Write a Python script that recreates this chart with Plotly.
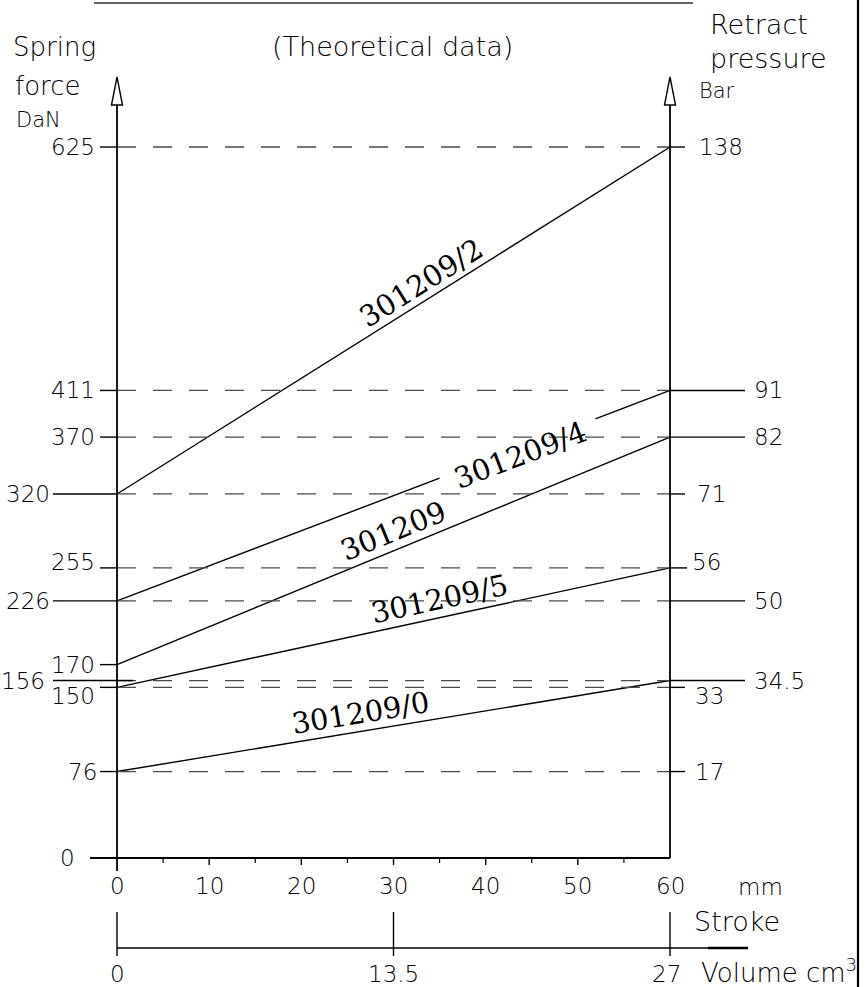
import math
import numpy as np
import plotly.graph_objects as go

# ---------------- data ----------------
stroke_range = [0, 60]                      # mm
series_names = ["301209/2", "301209/4", "301209", "301209/5", "301209/0"]
force_at_0 = [320, 226, 170, 150, 76]       # DaN at stroke 0
force_at_60 = [625, 411, 370, 255, 156]     # DaN at stroke 60

force_max = 625
force_tick_values = [625, 411, 370, 320, 255, 226, 170, 156, 150, 76, 0]
dashed_levels = [625, 411, 370, 320, 255, 226, 156, 150, 76]

pressure_forces = [625, 411, 370, 320, 255, 226, 156, 150, 76]
pressure_labels = ["138", "91", "82", "71", "56", "50", "34.5", "33", "17"]

stroke_ticks = [0, 10, 20, 30, 40, 50, 60]
stroke_minor_ticks = [5, 15, 25, 35, 45, 55]
volume_labels = ["0", "13.5", "27"]
volume_values = [0, 13.5, 27]
volume_max = 27

# ---------------- layout helpers (pixel geometry) ----------------
W, H = 867, 987
PX_X0, PX_X1 = 117, 670
PX_Y0, PX_Y1 = 858, 147
SMAX = stroke_range[1]


def X(px):
    return SMAX * (px - PX_X0) / (PX_X1 - PX_X0)


def Y(py):
    return force_max * (PX_Y0 - py) / (PX_Y0 - PX_Y1)


def vol_to_stroke(v):
    return v / volume_max * SMAX


SANS = "DejaVu Sans"
SANS_WEIGHT = 200
SERIF = "DejaVu Serif"
BLACK = "#000000"

fig = go.Figure()

# ---------------- spring lines ----------------
gap_for = {"301209/4": (35.0, 51.9)}   # line broken under its label
for name, f0, f1 in zip(series_names, force_at_0, force_at_60):
    xs = stroke_range
    ys = [f0, f1]
    if name in gap_for:
        g0, g1 = gap_for[name]
        xs = [stroke_range[0], g0, None, g1, stroke_range[1]]
        ys = [f0, float(np.interp(g0, stroke_range, ys)), None,
              float(np.interp(g1, stroke_range, ys)), f1]
    fig.add_trace(go.Scatter(x=xs, y=ys, mode="lines", name=name,
                             line=dict(color=BLACK, width=1.4),
                             hoverinfo="skip", showlegend=False))

shapes = []


def seg(x0, y0, x1, y1, width=1.4, color=BLACK, dash=None):
    d = dict(type="line", xref="x", yref="y", x0=x0, y0=y0, x1=x1, y1=y1,
             line=dict(color=color, width=width))
    if dash:
        d["line"]["dash"] = dash
    shapes.append(d)


# dashed reference levels
for lv in dashed_levels:
    seg(0, lv, SMAX, lv, width=1.3, color="#4a4a4a", dash="19px,17px")

# frame lines
seg(X(94), Y(3), X(693), Y(3), width=1.6, color="#333333")
seg(X(858), Y(0), X(858), Y(987), width=2.2)

# axes
seg(0, Y(871), 0, Y(105), width=1.8)
seg(SMAX, 0, SMAX, Y(105), width=1.8)
seg(X(90), 0, SMAX, 0, width=1.8)
for xa in (0, SMAX):
    px = PX_X0 + (PX_X1 - PX_X0) * xa / SMAX
    shapes.append(dict(type="path", xref="x", yref="y",
                       path=f"M {X(px)},{Y(77)} L {X(px - 5.5)},{Y(105)} "
                            f"L {X(px + 5.5)},{Y(105)} Z",
                       line=dict(color=BLACK, width=1.4), fillcolor="white"))

# stroke ticks
for s in stroke_ticks[1:-1]:
    seg(s, 0, s, Y(PX_Y0 + 7), width=1.4)
for s in stroke_minor_ticks:
    seg(s, 0, s, Y(PX_Y0 + 5), width=1.2)

# volume axis
seg(0, Y(948), X(748), Y(948), width=1.5)
seg(X(708), Y(948), X(748), Y(948), width=2.6)
for v in volume_values:
    s = vol_to_stroke(v)
    seg(s, Y(912), s, Y(956), width=1.4)

# left ticks: (start px, label right px, label dy px)
left_style = {
    625: (100, 97, 0), 411: (100, 97, 0), 370: (100, 97, 0),
    320: (53, 52, 0), 255: (100, 97, -6), 226: (53, 52, 0),
    170: (100, 97, 0), 156: (53, 47, 0), 150: (100, 97, 9),
    76: (100, 99, 0), 0: (None, 77, 0),
}
annotations = []


def sans(size):
    return dict(family=SANS, size=size, color=BLACK, weight=SANS_WEIGHT)


def text(px, py, t, size, xanchor="center", yanchor="middle"):
    annotations.append(dict(
        xref="x", yref="y", x=X(px), y=Y(py),
        text=t, showarrow=False, xanchor=xanchor, yanchor=yanchor,
        font=sans(size)))


for f in force_tick_values:
    start, lab_r, dy = left_style[f]
    py = PX_Y0 - f * (PX_Y0 - PX_Y1) / force_max
    if start is not None:
        end = 133 if f == 156 else PX_X0
        seg(X(start), f, X(end), f, width=1.4)
    text(lab_r, py + dy, str(f), 23, xanchor="right")

# right ticks: (end px, label left px, label dy px)
right_style = {
    "138": (685, 697, 0), "91": (745, 752, 0), "82": (745, 752, 0),
    "71": (685, 695, 0), "56": (687, 690, -6), "50": (745, 752, 0),
    "34.5": (745, 752, 0), "33": (685, 693, 9), "17": (685, 693, 0),
}
for f, lab in zip(pressure_forces, pressure_labels):
    end, lab_l, dy = right_style[lab]
    py = PX_Y0 - f * (PX_Y0 - PX_Y1) / force_max
    seg(SMAX, f, X(end), f, width=1.4)
    text(lab_l, py + dy, lab, 23, xanchor="left")

# stroke tick labels
for s in stroke_ticks:
    annotations.append(dict(xref="x", yref="y", x=s, y=Y(886), text=str(s),
                            showarrow=False, xanchor="center", yanchor="middle",
                            font=sans(23)))
# volume labels
for v, lab in zip(volume_values, volume_labels):
    xs = vol_to_stroke(v)
    if v == volume_max:
        xs = X(666)
    annotations.append(dict(xref="x", yref="y", x=xs, y=Y(974), text=lab,
                            showarrow=False, xanchor="center", yanchor="middle",
                            font=sans(23)))

# axis titles
text(392, 46, "(Theoretical data)", 27)
text(11, 47, "Spring", 26, xanchor="left")
text(13, 86, "force", 26, xanchor="left")
text(14, 120, "DaN", 21, xanchor="left")
text(708, 24, "Retract", 27, xanchor="left")
text(708, 58, "pressure", 27, xanchor="left")
text(697, 91, "Bar", 21, xanchor="left")
text(760, 887, "mm", 23)
text(692, 921, "Stroke", 27, xanchor="left")
text(699, 971, "Volume cm<sup>3</sup>", 26, xanchor="left")

# series labels along lines
label_stroke = [33.0, 43.8, 30.0, 35.0, 26.4]
label_lift_px = [20, -8, 20, 19, 19]
for name, f0, f1, s, lift in zip(series_names, force_at_0, force_at_60,
                                 label_stroke, label_lift_px):
    dy_px = (f1 - f0) * (PX_Y0 - PX_Y1) / force_max
    dx_px = PX_X1 - PX_X0
    ang = math.degrees(math.atan2(dy_px, dx_px))
    yv = float(np.interp(s, stroke_range, [f0, f1]))
    annotations.append(dict(xref="x", yref="y", x=s, y=yv, text=name,
                            showarrow=False, xanchor="center", yanchor="middle",
                            textangle=-ang, yshift=lift,
                            font=dict(family=SERIF, size=29, color=BLACK)))

fig.update_layout(
    width=W, height=H, autosize=False,
    margin=dict(l=0, r=0, t=0, b=0, pad=0),
    paper_bgcolor="white", plot_bgcolor="white",
    xaxis=dict(range=[X(0), X(W)], visible=False, fixedrange=True),
    yaxis=dict(range=[Y(H), Y(0)], visible=False, fixedrange=True),
    shapes=shapes, annotations=annotations, showlegend=False,
)

fig.write_html(
    "out.html",
    config={"displayModeBar": False},
    post_script="document.body.style.margin='0px';document.body.style.overflow='hidden';",
)
